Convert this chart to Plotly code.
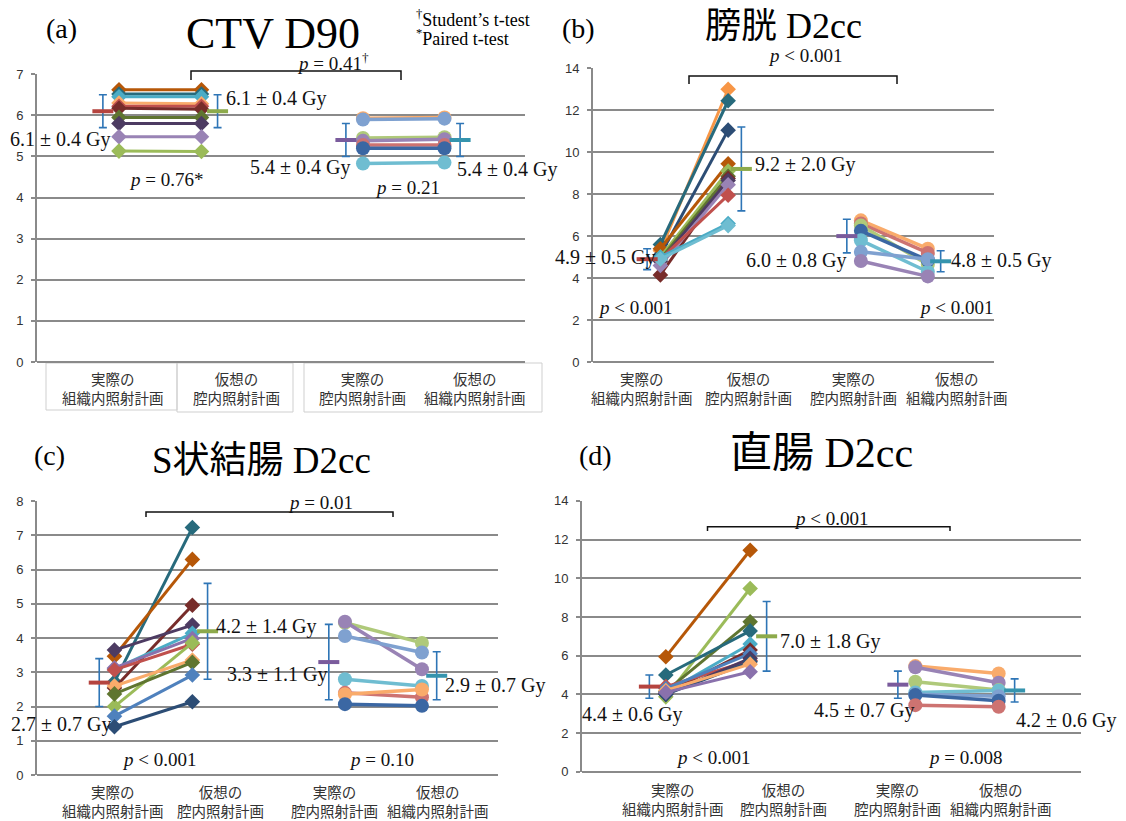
import plotly.graph_objects as go

# page body has an 8px margin: the figure is drawn 8px in from the window edge
OFF = 8
W, H = 1126 - OFF, 821 - OFF

# ---------------- data ----------------
CAT_LABELS = ["実際の<br>組織内照射計画", "仮想の<br>腔内照射計画",
              "実際の<br>腔内照射計画", "仮想の<br>組織内照射計画"]
TITLES = ["CTV D90", "膀胱 D2cc", "S状結腸 D2cc", "直腸 D2cc"]
PANEL_TAGS = ["(a)", "(b)", "(c)", "(d)"]

# (a) CTV D90
A_ISBT_ACTUAL = [6.62, 6.52, 6.45, 6.30, 6.22, 6.17, 5.95, 5.80, 5.48, 5.13]
A_ISBT_VIRTUAL = [6.62, 6.52, 6.45, 6.28, 6.22, 6.15, 5.95, 5.80, 5.48, 5.12]
A_ICBT_ACTUAL = [5.93, 5.90, 5.45, 5.38, 5.28, 5.20, 4.83]
A_ICBT_VIRTUAL = [5.95, 5.92, 5.47, 5.42, 5.28, 5.20, 4.85]
A_MEAN = [6.1, 6.1, 5.4, 5.4]
A_SD = [0.4, 0.4, 0.4, 0.4]
A_P = ["<i>p</i> = 0.76*", "<i>p</i> = 0.21", "<i>p</i> = 0.41<sup>†</sup>"]

# (b) bladder D2cc
B_ISBT_ACTUAL = [5.30, 5.60, 5.10, 5.40, 5.00, 4.90, 4.15, 4.80, 4.60, 4.90, 5.00, 4.90]
B_ISBT_VIRTUAL = [13.00, 12.45, 11.05, 9.45, 9.10, 8.85, 8.75, 8.65, 8.45, 7.95, 6.60, 6.50]
B_ICBT_ACTUAL = [6.75, 6.60, 6.50, 6.25, 5.80, 5.25, 4.81]
B_ICBT_VIRTUAL = [5.40, 5.20, 4.65, 4.85, 4.30, 4.90, 4.08]
B_MEAN = [4.9, 9.2, 6.0, 4.8]
B_SD = [0.5, 2.0, 0.8, 0.5]
B_P = ["<i>p</i> < 0.001", "<i>p</i> < 0.001", "<i>p</i> < 0.001"]

# (c) sigmoid D2cc
C_ISBT_ACTUAL = [2.72, 3.47, 2.54, 3.65, 3.10, 3.13, 3.07, 2.00, 2.60, 2.37, 1.72, 1.41]
C_ISBT_VIRTUAL = [7.23, 6.30, 4.96, 4.38, 4.14, 3.99, 3.82, 3.86, 3.36, 3.29, 2.92, 2.14]
C_ICBT_ACTUAL = [4.45, 4.48, 4.06, 2.80, 2.40, 2.36, 2.07]
C_ICBT_VIRTUAL = [3.86, 3.09, 3.58, 2.60, 2.27, 2.50, 2.02]
C_MEAN = [2.7, 4.2, 3.3, 2.9]
C_SD = [0.7, 1.4, 1.1, 0.7]
C_P = ["<i>p</i> < 0.001", "<i>p</i> = 0.10", "<i>p</i> = 0.01"]

# (d) rectum D2cc
D_ISBT_ACTUAL = [5.94, 3.87, 4.15, 5.00, 4.10, 4.05, 4.40, 4.30, 4.00, 4.00, 4.20, 4.10]
D_ISBT_VIRTUAL = [11.45, 9.47, 7.75, 7.28, 6.60, 6.29, 5.75, 6.10, 5.86, 5.68, 5.56, 5.17]
D_ICBT_ACTUAL = [5.46, 5.40, 4.65, 4.10, 4.00, 3.96, 3.44]
D_ICBT_VIRTUAL = [5.08, 4.60, 4.22, 4.20, 3.90, 3.67, 3.36]
D_MEAN = [4.4, 7.0, 4.5, 4.2]
D_SD = [0.6, 1.8, 0.7, 0.6]
D_P = ["<i>p</i> < 0.001", "<i>p</i> = 0.008", "<i>p</i> < 0.001"]

# ---------------- styles ----------------
DO, DT, DB, OR = "#B65708", "#276A7C", "#2C4D75", "#F79646"
DG, GR, DP, PU = "#5F7530", "#9BBB59", "#4D3B62", "#8A71AC"
RD, DR, AQ, BL = "#C0504D", "#772C2A", "#4BACC6", "#4F81BD"
LO, LR, LG, LA = "#F9AB6B", "#CD7371", "#AFC97A", "#6FBDD1"
LP, LB, CB = "#9983B5", "#7FA1D0", "#3B67A3"

A_DCOL = [DO, DT, AQ, LO, RD, DR, DG, DP, LP, GR]
A_CCOL = [LO, LB, LG, LP, LR, CB, LA]
B_DCOL = [OR, DT, DB, DO, GR, DG, DR, DP, LP, RD, AQ, LA]
B_CCOL = [LO, LR, LG, CB, LA, LB, LP]
C_DCOL = [DT, DO, DR, DP, AQ, PU, RD, GR, LO, DG, BL, DB]
C_CCOL = [LG, LP, LB, LA, LR, LO, CB]
D_DCOL = [DO, GR, DG, DT, AQ, DR, RD, BL, DP, DB, LO, PU]
D_CCOL = [LO, LP, LG, LA, LB, CB, LR]

MEAN_COL = ["#B5443F", "#8DAA4B", "#7A5B9C", "#3594AE"]
ERR_COL = "#2E75B6"
GRID = "#8A8A8A"
SERIF = "Liberation Serif, Noto Sans CJK JP, serif"
CJK = "Noto Sans CJK JP, sans-serif"
LABEL_SIZE = 20

PTS = [0.168, 0.337, 0.668, 0.835]     # fraction of plot width
MPOS = [0.135, 0.370, 0.633, 0.867]

# pixel layout per panel (window pixels)
PANELS = [
    dict(x0=37, x1=525, ytop=74, ybot=362, ymax=7, dtick=1,
         data=(A_ISBT_ACTUAL, A_ISBT_VIRTUAL, A_ICBT_ACTUAL, A_ICBT_VIRTUAL, A_MEAN, A_SD, A_P),
         cols=(A_DCOL, A_CCOL),
         cats=[113, 236, 362, 475], caty=387.5,
         mlab=[(8, 139), (224, 98), (248, 167), (455, 170)],
         plab=[(166, 179), (407, 187), (333, 62)],
         br=(191, 401, 71, 80), tag=(61, 28, 28), title=(273, 33, 44)),
    dict(x0=593, x1=994, ytop=68, ybot=362, ymax=14, dtick=2,
         data=(B_ISBT_ACTUAL, B_ISBT_VIRTUAL, B_ICBT_ACTUAL, B_ICBT_VIRTUAL, B_MEAN, B_SD, B_P),
         cols=(B_DCOL, B_CCOL),
         cats=[642, 748, 853, 957], caty=387.5,
         mlab=[(553, 257), (753, 164), (744, 260), (949, 260)],
         plab=[(635, 307), (956, 307), (805, 56)],
         br=(689, 897, 76, 84), tag=(578, 28, 28), title=(783, 26, 36)),
    dict(x0=37, x1=498, ytop=501, ybot=775, ymax=8, dtick=1,
         data=(C_ISBT_ACTUAL, C_ISBT_VIRTUAL, C_ICBT_ACTUAL, C_ICBT_VIRTUAL, C_MEAN, C_SD, C_P),
         cols=(C_DCOL, C_CCOL),
         cats=[113, 220, 335, 438], caty=801,
         mlab=[(9, 724), (214, 626), (225, 674), (443, 685)],
         plab=[(159, 759), (381, 759), (320, 502)],
         br=(146, 393, 512, 517), tag=(49, 455, 28), title=(261, 460, 37)),
    dict(x0=582, x1=1081, ytop=500.7, ybot=771.7, ymax=14, dtick=2,
         data=(D_ISBT_ACTUAL, D_ISBT_VIRTUAL, D_ICBT_ACTUAL, D_ICBT_VIRTUAL, D_MEAN, D_SD, D_P),
         cols=(D_DCOL, D_CCOL),
         cats=[673, 783, 897, 1001], caty=799,
         mlab=[(580, 714), (778, 641), (812, 710), (1014, 720)],
         plab=[(713, 757), (965, 757), (831, 518)],
         br=(707.5, 950, 526.7, 531), tag=(595, 455, 28), title=(821, 453, 42)),
]


def PX(x):
    return (x - OFF) / W


def PY(y):
    return 1 - (y - OFF) / H


fig = go.Figure()
annotations, shapes = [], []
layout_axes = {}

for i, p in enumerate(PANELS):
    k = "" if i == 0 else str(i + 1)
    xa, ya = "x" + k, "y" + k
    layout_axes["xaxis" + k] = dict(
        domain=[PX(p["x0"]), PX(p["x1"])], range=[0, 1], anchor=ya,
        showgrid=False, zeroline=False, showticklabels=False, showline=False,
        automargin=False, fixedrange=True)
    layout_axes["yaxis" + k] = dict(
        domain=[PY(p["ybot"]), PY(p["ytop"])], range=[0, p["ymax"] * 1.0008],
        anchor=xa, dtick=p["dtick"], tick0=0, automargin=False,
        showgrid=True, gridcolor=GRID, gridwidth=2,
        zeroline=True, zerolinecolor=GRID, zerolinewidth=2,
        showline=True, linecolor=GRID, linewidth=2,
        ticks="outside", ticklen=4, tickcolor=GRID, tickwidth=2,
        ticklabelstandoff=5,
        tickfont=dict(family="Liberation Sans, sans-serif", size=13, color="#333"),
        fixedrange=True)

    isa, isv, ica, icv, mean, sd, pv = p["data"]
    dcol, ccol = p["cols"]
    # interstitial patients (diamonds)
    for a, v, c in zip(isa, isv, dcol):
        fig.add_trace(go.Scatter(
            x=[PTS[0], PTS[1]], y=[a, v], mode="lines+markers",
            line=dict(color=c, width=3),
            marker=dict(symbol="diamond", size=12, color=c),
            xaxis=xa, yaxis=ya, showlegend=False, hoverinfo="y"))
    # intracavitary patients (circles)
    for a, v, c in zip(ica, icv, ccol):
        fig.add_trace(go.Scatter(
            x=[PTS[2], PTS[3]], y=[a, v], mode="lines+markers",
            line=dict(color=c, width=3.5),
            marker=dict(symbol="circle", size=14, color=c),
            xaxis=xa, yaxis=ya, showlegend=False, hoverinfo="y"))
    # means +/- SD
    for j in range(4):
        fig.add_trace(go.Scatter(
            x=[MPOS[j]], y=[mean[j]], mode="markers",
            marker=dict(symbol="line-ew", size=15,
                        line=dict(color=MEAN_COL[j], width=4)),
            error_y=dict(type="data", array=[sd[j]], visible=True,
                         color=ERR_COL, thickness=1.6, width=4),
            xaxis=xa, yaxis=ya, showlegend=False, hoverinfo="y"))
        lx, ly = p["mlab"][j]
        annotations.append(dict(
            x=PX(lx), y=PY(ly), xref="paper", yref="paper",
            xanchor="left", yanchor="middle", showarrow=False,
            text=f"{mean[j]:.1f} ± {sd[j]:.1f} Gy",
            font=dict(family=SERIF, size=LABEL_SIZE, color="#111")))

    # p-values
    for (tx, ty), t in zip(p["plab"], pv):
        annotations.append(dict(
            x=PX(tx), y=PY(ty), xref="paper", yref="paper",
            xanchor="center", yanchor="middle", showarrow=False, text=t,
            font=dict(family=SERIF, size=LABEL_SIZE - 1, color="#111")))

    # bracket
    bx0, bx1, byt, byb = p["br"]
    shapes.append(dict(
        type="path", xref="paper", yref="paper",
        path=f"M {PX(bx0)},{PY(byb)} L {PX(bx0)},{PY(byt)} L {PX(bx1)},{PY(byt)} L {PX(bx1)},{PY(byb)}",
        line=dict(color="#111", width=1.5)))

    # category labels
    for cx, lab in zip(p["cats"], CAT_LABELS):
        annotations.append(dict(
            x=PX(cx), y=PY(p["caty"]), xref="paper", yref="paper",
            xanchor="center", yanchor="middle", showarrow=False, text=lab,
            font=dict(family=CJK, size=14.5, color="#333")))

    # panel tag and title
    tx, ty, ts = p["tag"]
    annotations.append(dict(
        x=PX(tx), y=PY(ty), xref="paper", yref="paper", xanchor="center",
        yanchor="middle", showarrow=False, text=PANEL_TAGS[i],
        font=dict(family=SERIF, size=ts, color="#000")))
    tx, ty, ts = p["title"]
    annotations.append(dict(
        x=PX(tx), y=PY(ty), xref="paper", yref="paper", xanchor="center",
        yanchor="middle", showarrow=False, text=TITLES[i],
        font=dict(family=SERIF, size=ts, color="#000")))

# test legend in panel (a)
annotations.append(dict(
    x=PX(414), y=PY(18), xref="paper", yref="paper", xanchor="left",
    yanchor="middle", showarrow=False, text="<sup>†</sup>Student’s t-test",
    font=dict(family=SERIF, size=18, color="#000")))
annotations.append(dict(
    x=PX(414), y=PY(38), xref="paper", yref="paper", xanchor="left",
    yanchor="middle", showarrow=False, text="<sup>*</sup>Paired t-test",
    font=dict(family=SERIF, size=18, color="#000")))

# category boxes in panel (a)
for bx0, bx1, by0, by1 in [(46, 177, 363, 410), (177, 293, 363, 412), (304, 542, 363, 412)]:
    shapes.append(dict(type="rect", xref="paper", yref="paper",
                       x0=PX(bx0), x1=PX(bx1), y0=PY(by1), y1=PY(by0),
                       line=dict(color="#CFCFCF", width=1), layer="below"))

fig.update_layout(
    width=W, height=H, autosize=False,
    margin=dict(l=0, r=0, t=0, b=0, autoexpand=False),
    paper_bgcolor="white", plot_bgcolor="rgba(0,0,0,0)",
    showlegend=False, annotations=annotations, shapes=shapes,
    **layout_axes)

fig.write_html("out.html")
